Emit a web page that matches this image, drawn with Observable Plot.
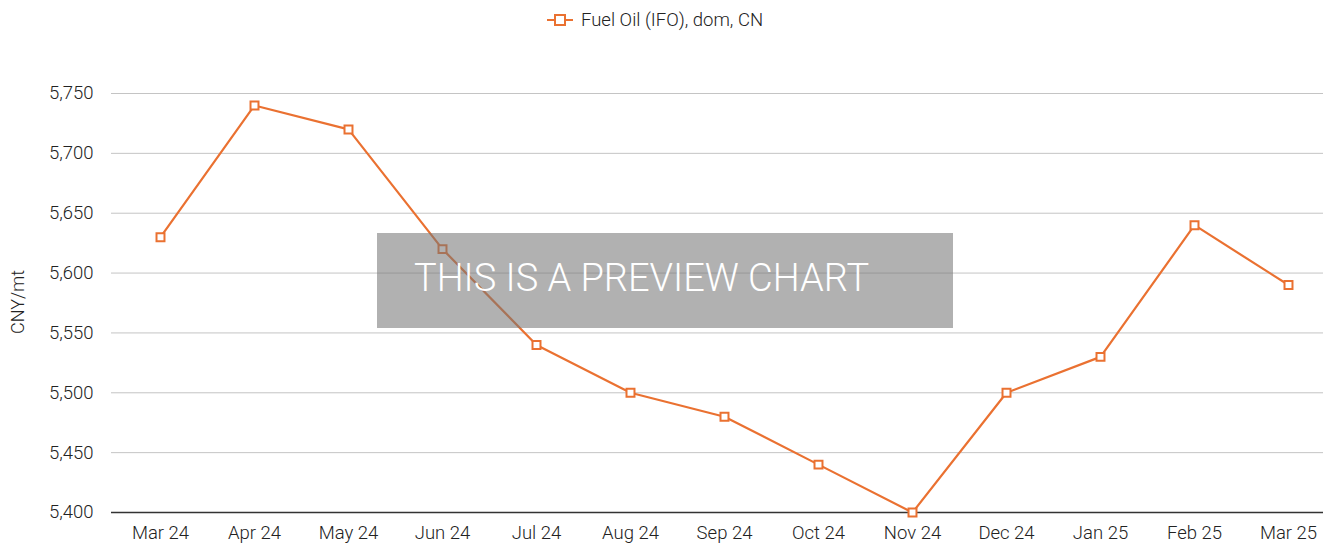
<!DOCTYPE html>
<html>
<head>
<meta charset="utf-8">
<script src="https://cdn.jsdelivr.net/npm/d3@7"></script>
<script src="https://cdn.jsdelivr.net/npm/@observablehq/plot@0.6"></script>
<style>
  html, body { margin: 0; padding: 0; background: #fff; overflow: hidden; width: 1323px; height: 543px; }
  body { font-family: Roboto, "Noto Sans", sans-serif; position: relative; }
  #legend { position: absolute; top: 8px; left: 547px; height: 24px; display: flex; align-items: center; font-size: 18.5px; font-weight: 300; color: #222; white-space: nowrap; }
  #legend .sw { margin-right: 8px; }
  #chart { position: absolute; top: 40px; left: 0; }
  #chart svg { max-width: none !important; }
  #overlay { position: absolute; left: 377px; top: 233px; width: 576px; height: 95px; background: rgba(118,118,118,0.57); color: #fff; font-size: 38px; font-weight: 300; display: flex; align-items: center; justify-content: flex-start; padding-left: 37px; padding-bottom: 6px; box-sizing: border-box; white-space: nowrap; }
</style>
</head>
<body>
<div id="legend"><svg class="sw" width="26" height="14"><line x1="0" y1="7" x2="26" y2="7" stroke="#ea7131" stroke-width="2"/><rect x="8" y="2" width="10" height="10" fill="#fff" stroke="#ea7131" stroke-width="2"/></svg><span id="legendText"></span></div>
<div id="chart"></div>
<div id="overlay">THIS IS A PREVIEW CHART</div>
<script>
const months = ["Mar 24","Apr 24","May 24","Jun 24","Jul 24","Aug 24","Sep 24","Oct 24","Nov 24","Dec 24","Jan 25","Feb 25","Mar 25"];
const values = [5630,5740,5720,5620,5540,5500,5480,5440,5400,5500,5530,5640,5590];
const yTicks = [5400,5450,5500,5550,5600,5650,5700,5750];
const seriesName = "Fuel Oil (IFO), dom, CN";
const yLabel = "CNY/mt";

document.getElementById("legendText").textContent = seriesName;
const data = months.map((m, i) => ({month: m, value: values[i]}));
const color = "#ea7131";

const plot = Plot.plot({
  width: 1337,
  height: 503,
  marginLeft: 111,
  marginRight: 0,
  marginTop: 53,
  marginBottom: 31,
  style: {fontFamily: "Roboto, sans-serif", fontSize: "18.5px", fontWeight: 300, color: "#222", background: "transparent", maxWidth: "none"},
  x: {type: "band", domain: months, padding: 0, label: null, tickSize: 0, tickPadding: 13},
  y: {domain: [5400, 5750], ticks: yTicks, label: null, tickFormat: d3.format(","), tickSize: 0, tickPadding: 18},
  marks: [
    Plot.ruleY(yTicks.filter(t => t > 5400), {stroke: "#c4c4c4", strokeWidth: 1}),
    Plot.ruleY([5400], {stroke: "#333", strokeWidth: 1.3}),
    Plot.line(data, {x: "month", y: "value", stroke: color, strokeWidth: 2.2}),
    Plot.dot(data, {x: "month", y: "value", symbol: "square", r: 4.5, fill: "#fff", stroke: color, strokeWidth: 2})
  ]
});
document.getElementById("chart").appendChild(plot);

// y-axis title
const svg = d3.select(plot);
svg.append("text")
  .attr("transform", "translate(24,262) rotate(-90)")
  .attr("text-anchor", "middle")
  .attr("font-size", 18)
  .attr("font-weight", 300)
  .attr("fill", "#222")
  .text(yLabel);
</script>
</body>
</html>
